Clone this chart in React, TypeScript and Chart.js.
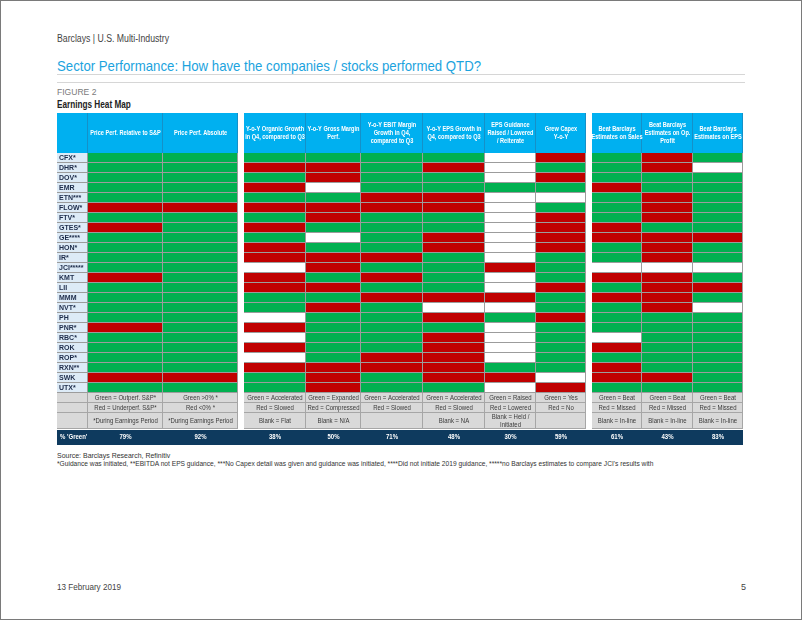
import React, { useEffect, useRef } from 'react';
import { Chart, registerables } from 'chart.js';

Chart.register(...registerables);

const FONT = '"Liberation Sans", Arial, sans-serif';

// ---------- data ----------
const tickers = ['CFX*', 'DHR*', 'DOV*', 'EMR', 'ETN***', 'FLOW*', 'FTV*', 'GTES*', 'GE****', 'HON*', 'IR*', 'JCI*****',
  'KMT', 'LII', 'MMM', 'NVT*', 'PH', 'PNR*', 'RBC*', 'ROK', 'ROP*', 'RXN**', 'SWK', 'UTX*'];

// 1 = green, 0 = red, null = blank
const G = 1, R = 0, B = null;
const priceRelSP = [G, G, G, G, G, R, G, R, G, G, G, G, R, G, G, G, G, R, G, G, G, G, R, G];
const priceAbs = [G, G, G, G, G, R, G, G, G, G, G, G, G, G, G, G, G, G, G, G, G, G, R, G];
const organicGrowth = [G, R, G, R, G, R, G, R, G, R, R, B, R, R, G, G, B, R, B, R, B, R, G, G];
const grossMargin = [G, R, R, B, G, R, R, G, B, G, R, R, G, R, G, R, G, G, G, G, G, R, R, R];
const ebitMargin = [G, G, G, G, R, R, G, G, G, G, R, G, R, G, R, G, G, G, G, G, R, R, G, G];
const epsGrowth = [G, R, G, G, R, R, G, G, R, R, G, G, G, G, R, B, R, G, R, R, R, R, R, G];
const epsGuidance = [B, B, B, G, B, B, B, B, B, B, B, R, B, B, R, B, G, B, B, B, B, G, R, B];
const grewCapex = [R, G, R, G, B, G, R, R, R, R, G, G, G, R, G, G, R, G, G, G, G, G, B, R];
const beatSales = [G, G, G, R, G, G, G, R, R, G, G, B, R, G, R, G, G, G, B, R, G, R, R, G];
const beatOpProfit = [R, R, G, G, R, R, R, G, R, R, R, B, R, R, R, R, G, G, G, G, G, G, R, G];
const beatEps = [G, B, G, G, G, G, G, G, R, G, G, B, G, R, G, B, G, G, G, G, G, G, G, G];

const columnValues = [priceRelSP, priceAbs, organicGrowth, grossMargin, ebitMargin, epsGrowth,
  epsGuidance, grewCapex, beatSales, beatOpProfit, beatEps];

const headerLabels = [
  ['Price Perf. Relative to S&P'],
  ['Price Perf. Absolute'],
  ['Y-o-Y Organic Growth', 'in Q4, compared to Q3'],
  ['Y-o-Y Gross Margin', 'Perf.'],
  ['Y-o-Y EBIT Margin', 'Growth in Q4,', 'compared to Q3'],
  ['Y-o-Y EPS Growth in', 'Q4, compared to Q3'],
  ['EPS Guidance', 'Raised / Lowered', '/ Reiterate'],
  ['Grew Capex', 'Y-o-Y'],
  ['Beat Barclays', 'Estimates on Sales'],
  ['Beat Barclays', 'Estimates on Op.', 'Profit'],
  ['Beat Barclays', 'Estimates on EPS'],
];

const legendGreen = ['Green = Outperf. S&P*', 'Green >0% *', 'Green = Accelerated', 'Green = Expanded',
  'Green = Accelerated', 'Green = Accelerated', 'Green = Raised', 'Green = Yes', 'Green = Beat', 'Green = Beat', 'Green = Beat'];
const legendRed = ['Red = Underperf. S&P*', 'Red <0% *', 'Red = Slowed', 'Red = Compressed', 'Red = Slowed',
  'Red = Slowed', 'Red = Lowered', 'Red = No', 'Red = Missed', 'Red = Missed', 'Red = Missed'];
const legendBlank = [['*During Earnings Period'], ['*During Earnings Period'], ['Blank = Flat'], ['Blank = N/A'], [],
  ['Blank = NA'], ['Blank = Held /', 'Initiated'], [], ['Blank = In-line'], ['Blank = In-line'], ['Blank = In-line']];
const pctGreen = ['79%', '92%', '38%', '50%', '71%', '48%', '30%', '59%', '61%', '43%', '83%'];

// ---------- layout (table units = canvas px) ----------
const TABLE_W = 686;
const tickerSpan: [number, number] = [0, 31];
const colSpans: [number, number][] = [[31, 106], [106, 181], [187, 249], [249, 304], [304, 366], [366, 428],
  [428, 479], [479, 529], [535, 585], [585, 636], [636, 686]];
const groupSpans: [number, number][] = [[0, 181], [187, 529], [535, 686]];

const GREEN = '#00B050';
const RED = '#C00000';
const BLANK = '#FFFFFF';
const HEADER_BLUE = '#00B0F0';
const HEADER_LINE = '#1590C8';
const TICKER_BG = '#DDEBF7';
const NAVY = '#0E3A5E';
const CELL_LINE = '#9C9C9C';

const colorFor = (v: number | null) => (v === 1 ? GREEN : v === 0 ? RED : BLANK);

function drawText(ctx: CanvasRenderingContext2D, text: string, x: number, y: number, align: CanvasTextAlign, sx: number) {
  ctx.save();
  ctx.translate(x, y);
  ctx.scale(sx, 1);
  ctx.textAlign = align;
  ctx.textBaseline = 'middle';
  ctx.fillText(text, 0, 0);
  ctx.restore();
}

const tablePlugin = {
  id: 'tableDecor',
  beforeDraw(chart: any) {
    const { ctx, chartArea } = chart;
    const xs = chart.scales.x;
    const P = (v: number) => Math.round(xs.getPixelForValue(v));
    const hb = Math.round(chartArea.top);
    ctx.save();
    ctx.fillStyle = HEADER_BLUE;
    for (const [a, b] of groupSpans) ctx.fillRect(P(a), 0, P(b) - P(a), hb);
    ctx.fillStyle = HEADER_LINE;
    for (const [, b] of [tickerSpan, ...colSpans]) ctx.fillRect(P(b) - 1, 0, 1, hb);
    ctx.fillStyle = '#FFFFFF';
    ctx.font = `bold 7px ${FONT}`;
    const lh = 8;
    headerLabels.forEach((lines, i) => {
      const [a, b] = colSpans[i];
      const cx = (P(a) + P(b)) / 2;
      const start = 20.5 - ((lines.length - 1) * lh) / 2;
      lines.forEach((ln, k) => drawText(ctx, ln, cx, start + k * lh, 'center', 0.8));
    });
    ctx.restore();
  },
  afterDraw(chart: any) {
    const { ctx, chartArea } = chart;
    const xs = chart.scales.x;
    const P = (v: number) => Math.round(xs.getPixelForValue(v));
    let y = Math.round(chartArea.bottom);
    const rows = [
      { h: 10, texts: legendGreen.map((t) => [t]) },
      { h: 10, texts: legendRed.map((t) => [t]) },
      { h: 16, texts: legendBlank },
    ];
    ctx.save();
    ctx.font = `7px ${FONT}`;
    for (const row of rows) {
      ctx.fillStyle = '#D9D9D9';
      for (const [a, b] of groupSpans) ctx.fillRect(P(a), y, P(b) - P(a), row.h);
      ctx.fillStyle = '#A6A6A6';
      for (const [a, b] of groupSpans) ctx.fillRect(P(a), y + row.h - 1, P(b) - P(a), 1);
      for (const [, b] of [tickerSpan, ...colSpans]) ctx.fillRect(P(b) - 1, y, 1, row.h);
      ctx.fillStyle = '#3A3A3A';
      row.texts.forEach((lines, i) => {
        const [a, b] = colSpans[i];
        const cx = (P(a) + P(b)) / 2;
        const lh = 8.5;
        const start = y + row.h / 2 - ((lines.length - 1) * lh) / 2;
        lines.forEach((ln, k) => drawText(ctx, ln, cx, start + k * lh, 'center', 0.86));
      });
      y += row.h;
    }
    y += 1;
    ctx.fillStyle = NAVY;
    ctx.fillRect(P(0), y, P(TABLE_W) - P(0), 15);
    ctx.fillStyle = '#FFFFFF';
    ctx.font = `bold 7px ${FONT}`;
    pctGreen.forEach((t, i) => {
      const [a, b] = colSpans[i];
      drawText(ctx, t, (P(a) + P(b)) / 2, y + 7.5, 'center', 0.86);
    });
    drawText(ctx, "% 'Green'", P(0) + 3, y + 7.5, 'left', 0.86);
    ctx.restore();
  },
};

function HeatMap() {
  const ref = useRef<HTMLCanvasElement>(null);
  useEffect(() => {
    if (!ref.current) return;
    const tickerDs = {
      label: 'Ticker',
      data: tickers.map(() => tickerSpan),
      backgroundColor: TICKER_BG,
    };
    const colDs = columnValues.map((vals, i) => ({
      label: headerLabels[i].join(' '),
      data: vals.map(() => colSpans[i]),
      backgroundColor: vals.map(colorFor),
    }));
    const chart = new Chart(ref.current, {
      type: 'bar',
      data: {
        labels: tickers,
        datasets: [tickerDs, ...colDs].map((d) => ({
          ...d,
          grouped: false,
          barPercentage: 1,
          categoryPercentage: 1,
          borderSkipped: false,
          borderWidth: { top: 0, left: 0, right: 1, bottom: 1 },
          borderColor: CELL_LINE,
          inflateAmount: 0,
        })) as any,
      },
      options: {
        indexAxis: 'y',
        animation: false,
        responsive: false,
        devicePixelRatio: 1,
        events: [],
        layout: { padding: { top: 40, left: 0, right: 0, bottom: 52 }, autoPadding: false },
        plugins: { legend: { display: false }, tooltip: { enabled: false } },
        scales: {
          x: {
            type: 'linear',
            display: false,
            min: 0,
            max: TABLE_W,
          },
          y: {
            type: 'category',
            offset: true,
            grid: { display: false },
            border: { display: false },
            afterFit: (s: any) => {
              s.width = 0;
              s.paddingTop = 0;
              s.paddingBottom = 0;
            },
            ticks: {
              mirror: true,
              padding: 2,
              z: 1,
              autoSkip: false,
              color: '#1C2B4A',
              font: { family: FONT, size: 7, weight: 'bold' },
            },
          },
        },
      } as any,
      plugins: [tablePlugin],
    });
    return () => chart.destroy();
  }, []);
  return <canvas ref={ref} width={686} height={332} style={{ position: 'absolute', left: 57, top: 113, width: 686, height: 332 }} />;
}

const txt = (style: React.CSSProperties, sx: number): React.CSSProperties => ({
  position: 'absolute', fontFamily: FONT, whiteSpace: 'nowrap', lineHeight: 1, margin: 0,
  transform: `scaleX(${sx})`, transformOrigin: 'left center', ...style,
});

export default function App() {
  return (
    <div style={{ position: 'absolute', left: 0, top: 0, width: 802, height: 620, background: '#fff', overflow: 'hidden' }}>
      <div style={{ position: 'absolute', inset: 0, border: '1px solid #7a7a7a', boxSizing: 'border-box', pointerEvents: 'none' }} />
      <div style={txt({ left: 57, top: 34, fontSize: 10, color: '#444' }, 0.87)}>Barclays | U.S. Multi-Industry</div>
      <div style={txt({ left: 57, top: 58, fontSize: 15, color: '#1BA3DE' }, 0.88)}>Sector Performance: How have the companies / stocks performed QTD?</div>
      <div style={{ position: 'absolute', left: 57, top: 74, width: 688, height: 1, background: '#D6D6D6' }} />
      <div style={{ position: 'absolute', left: 57, top: 82, width: 688, height: 1, background: '#D6D6D6' }} />
      <div style={txt({ left: 57, top: 88, fontSize: 9, color: '#7a7a7a' }, 0.95)}>FIGURE 2</div>
      <div style={txt({ left: 57, top: 100, fontSize: 10, color: '#222', fontWeight: 'bold' }, 0.82)}>Earnings Heat Map</div>
      <HeatMap />
      <div style={txt({ left: 57, top: 452, fontSize: 7.5, color: '#333' }, 0.93)}>Source: Barclays Research, Refinitiv</div>
      <div style={txt({ left: 57, top: 460, fontSize: 7.5, color: '#333' }, 0.885)}>
        *Guidance was initiated, **EBITDA not EPS guidance, ***No Capex detail was given and guidance was initiated, ****Did not initiate 2019 guidance, *****no Barclays estimates to compare JCI's results with
      </div>
      <div style={txt({ left: 57, top: 583, fontSize: 9, color: '#444' }, 0.9)}>13 February 2019</div>
      <div style={txt({ left: 741, top: 583, fontSize: 9, color: '#444' }, 1)}>5</div>
    </div>
  );
}
